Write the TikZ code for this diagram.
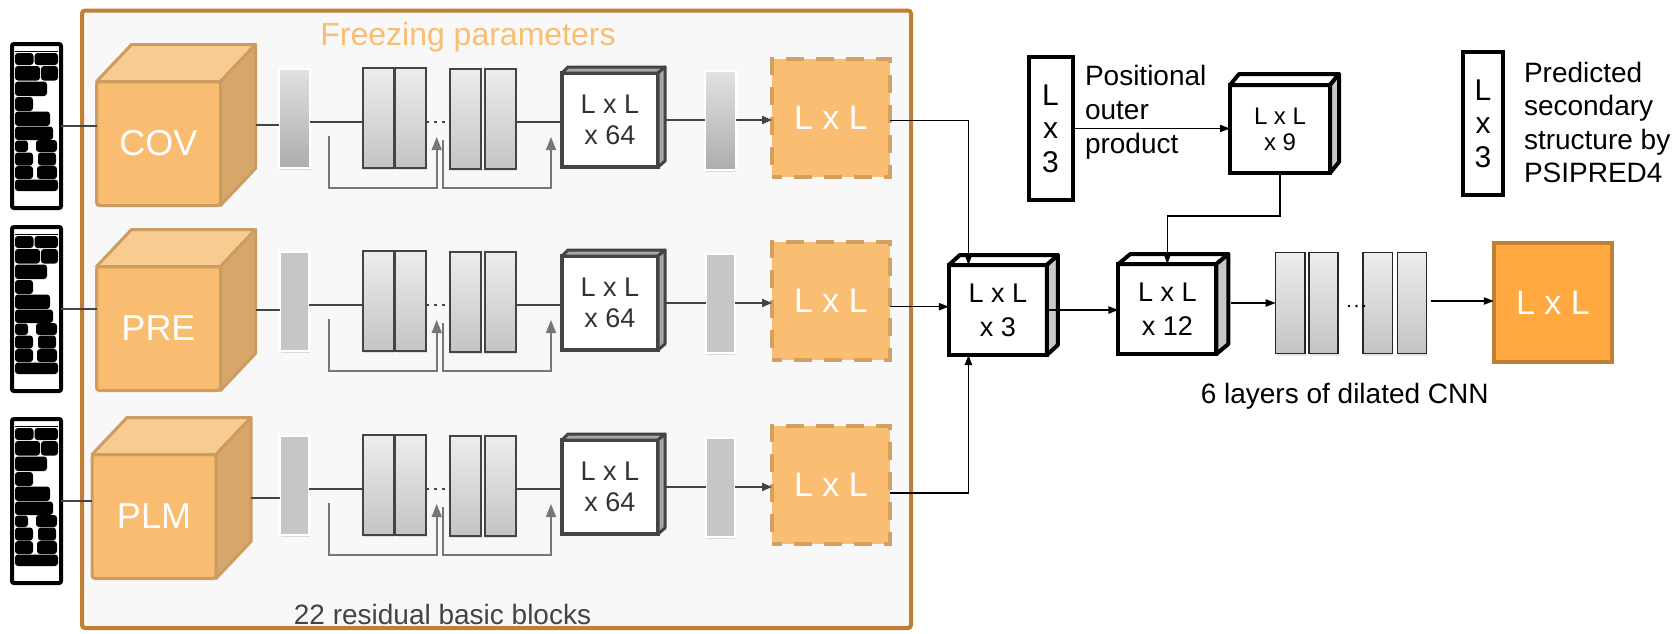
\documentclass[tikz,border=0pt]{standalone}
\usepackage{fontspec}
\setmainfont{Liberation Sans}
\usetikzlibrary{arrows.meta,shadows,calc}

\definecolor{frameC}{HTML}{BF7F35}
\definecolor{frameBg}{HTML}{F8F8F8}
\definecolor{freezeC}{HTML}{F9BE72}
\definecolor{cubeFront}{HTML}{F8BD70}
\definecolor{cubeTop}{HTML}{F8CB90}
\definecolor{cubeSide}{HTML}{D6A66A}
\definecolor{cubeEdge}{HTML}{CC9C62}
\definecolor{dashFill}{HTML}{F9BE72}
\definecolor{dashEdge}{HTML}{D1A062}
\definecolor{outFill}{HTML}{FFA940}
\definecolor{darkG}{HTML}{444444}
\definecolor{skipG}{HTML}{777777}
\definecolor{blkTop}{HTML}{EDEDED}
\definecolor{blkBot}{HTML}{C4C4C4}
\definecolor{barTop}{HTML}{E2E2E2}
\definecolor{barBot}{HTML}{ADADAD}
\definecolor{barFlat}{HTML}{C6C6C6}
\definecolor{sideG}{HTML}{C8C8C8}

% bars of the sequence-alignment icon, in local pixel units
\newcommand{\seqbars}{%
  \fill[black] (5,9) rectangle (48,10.2);
  \foreach \xa/\ya/\xb/\yb in {5/11/23.5/23, 24.5/11/48/23, 5/24/30/38.5, 31/24/48/38.5,
      5/39.5/37/54, 5/55/23/69, 5/69.5/40/84, 5/84.5/43/98, 5/98.5/18/110, 26/98/47/110,
      5/110.5/23/123.5, 28/110.5/46/123.5, 5/124/23/137, 27/124/47/137, 5/137.5/48/149}
    \fill[black, rounded corners=1.5pt] (\xa,\ya) rectangle (\xb,\yb);
}

\tikzset{
  every node/.style={inner sep=0pt, outer sep=0pt},
  lbl/.style={font=\fontsize{14}{17}\selectfont},
  frame/.style={draw=frameC, line width=2pt, fill=frameBg, rounded corners=1.5pt,
    minimum width=414.5pt, minimum height=308.75pt},
  seqbox/.style={draw=black, line width=2pt, fill=white, rounded corners=1pt,
    minimum width=24.5pt, minimum height=82pt},
  cubefront/.style={draw=cubeEdge, line width=1.5pt, fill=cubeFront, rounded corners=1.5pt,
    minimum width=62pt, minimum height=62pt, text=white, font=\fontsize{18}{20}\selectfont},
  cubeface/.style={draw=cubeEdge, line width=1.5pt, line join=round},
  barG/.style={draw=white, line width=1pt, top color=barTop, bottom color=barBot,
    minimum width=15.5pt, minimum height=49.5pt,
    drop shadow={shadow xshift=0.4pt, shadow yshift=-1.2pt, opacity=0.25}},
  barF/.style={draw=white, line width=1pt, fill=barFlat,
    minimum width=14.5pt, minimum height=49.5pt,
    drop shadow={shadow xshift=0.4pt, shadow yshift=-1.2pt, opacity=0.25}},
  blk/.style={draw=darkG, line width=1pt, top color=blkTop, bottom color=blkBot,
    minimum width=15.5pt, minimum height=50pt,
    drop shadow={shadow xshift=0.4pt, shadow yshift=-1.2pt, opacity=0.2}},
  cnnblk/.style={blk, draw=black!85, line width=0.75pt, minimum width=14.6pt, minimum height=50.3pt},
  boxsf/.style={draw=darkG, line width=2pt, fill=white, minimum width=48pt, minimum height=47pt,
    text=black!80, align=center, font=\fontsize{13.5}{15.5}\selectfont},
  boxsfface/.style={draw=darkG, line width=1.5pt, fill=black!35, line join=round},
  dashbox/.style={draw=dashEdge, line width=2pt, fill=dashFill, dash pattern=on 9pt off 6pt,
    dash phase=4pt, minimum width=59pt, minimum height=59pt, text=white,
    font=\fontsize{17}{19}\selectfont},
  mbox/.style={draw=black, line width=2pt, fill=white, align=center,
    minimum width=49pt, minimum height=45pt, font=\fontsize{13.5}{17}\selectfont},
  mtop/.style={draw=black, line width=2pt, fill=white, line join=round},
  mside/.style={draw=black, line width=2pt, fill=sideG, line join=round},
  tallbox/.style={draw=black, line width=2pt, fill=white, align=center,
    minimum width=22pt, minimum height=71.5pt, font=\fontsize{15}{16.8}\selectfont},
  outbox/.style={draw=frameC, line width=2pt, fill=outFill, minimum width=59pt, minimum height=59.7pt,
    text=white, font=\fontsize{17}{19}\selectfont},
  rowln/.style={draw=darkG, line width=1pt},
  rowarr/.style={rowln, -{Triangle[length=5pt,width=4pt]}},
  rowdots/.style={draw=darkG, line width=1.2pt, dash pattern=on 1.5pt off 2.5pt},
  skipln/.style={draw=skipG, line width=0.8pt, -{Triangle[length=6.5pt,width=5pt]}},
  conn/.style={draw=black, line width=0.75pt},
  arr/.style={conn, -{Triangle[length=5pt,width=3.6pt]}},
}

\begin{document}
\begin{tikzpicture}[x=0.5pt,y=-0.5pt]
\fill[white] (0,0) rectangle (1675,633);
\useasboundingbox (0,0) rectangle (1675,633);

% frozen feature-extraction block
\node[frame] (frame) at (496.5,319.25) {};
\node[font=\fontsize{16}{18}\selectfont, text=freezeC] (freeze) at (468,37) {Freezing parameters};
\node[lbl, text=darkG] (resid) at (442.5,614) {22 residual basic blocks};

\foreach \i/\sy/\cx/\cy/\lab/\ey/\ly/\oy/\bst in {
    1/126/158.5/143.5/COV/118/122/120.7/barG,
    2/309/158.5/328.5/PRE/301/305/306.7/barF,
    3/501/154/516.5/PLM/485/489/493/barF}{
  % input alignment
  \node[seqbox] (seq\i) at (36.5,\sy) {};
  \begin{scope}[shift={($(seq\i.north west)+(-2,-2)$)}]
    \seqbars
  \end{scope}
  % feature cube
  \node[cubefront] (cube\i) at (\cx,\cy) {\lab};
  \draw[cubeface, fill=cubeTop] (cube\i.north west) -- ++(35,-37)
      -- ($(cube\i.north east)+(35,-37)$) -- (cube\i.north east) -- cycle;
  \draw[cubeface, fill=cubeSide] (cube\i.north east) -- ++(35,-37)
      -- ($(cube\i.south east)+(35,-37)$) -- (cube\i.south east) -- cycle;
  \coordinate (cs\i) at ($(cube\i.east)+(35,-18.5)$);
  \draw[rowln] (seq\i.east) -- (seq\i.east -| cube\i.west);
  % residual tower
  \node[\bst] (ba\i) at (294.5,\ey) {};
  \coordinate (l\i) at (0,\ly);
  \node[blk] (pa\i) at (378,\ey) {};
  \node[blk] (pb\i) at (410.7,\ey) {};
  \node[blk] (pc\i) at (465.5,{\ey+1}) {};
  \node[blk] (pd\i) at (500,{\ey+1}) {};
  \node[boxsf] (bx\i) at (610,{\ey+2}) {L x L\\x 64};
  \draw[boxsfface] (bx\i.north west) -- ++(6,-6) -- ($(bx\i.north east)+(7,-6)$)
      -- (bx\i.north east) -- cycle;
  \draw[boxsfface] (bx\i.north east) -- ++(7,-6) -- ($(bx\i.south east)+(7,-6)$)
      -- (bx\i.south east) -- cycle;
  \node[\bst] (bb\i) at (720,{\ey+2}) {};
  \node[dashbox] (dl\i) at (831,{\ey}) {L x L};
  \draw[rowln] (cs\i) -- (cs\i -| ba\i.west);
  \draw[rowln] (ba\i.east |- l\i) -- (pa\i.west |- l\i);
  \draw[rowdots] (pb\i.east |- l\i) -- (pc\i.west |- l\i);
  \draw[rowln] (pd\i.east |- l\i) -- (bx\i.west |- l\i);
  \draw[rowln] ($(bx\i.east)+(7,0)$) -- (bb\i.west);
  \draw[rowarr] (bb\i.east) -- (bb\i.east -| dl\i.west);
  % skip connections
  \coordinate (sa\i) at (329,{\ly+14});
  \coordinate (ta\i) at (436.7,{\ly+15});
  \coordinate (sc\i) at (442.7,{\ly+18});
  \coordinate (tc\i) at (551,{\ly+15});
  \draw[skipln] (sa\i) -- ++(0,52) -| (ta\i);
  \draw[skipln] (sc\i) -- ++(0,48) -| (tc\i);
  \coordinate (o\i) at (0,\oy);
}

% fusion of the three maps
\node[mbox] (merge) at (997.85,310) {L x L\\x 3};
\draw[mtop] (merge.north west) -- ++(11,-10) -- ($(merge.north east)+(11,-10)$)
    -- (merge.north east) -- cycle;
\draw[mside] (merge.north east) -- ++(11,-10) -- ($(merge.south east)+(11,-10)$)
    -- (merge.south east) -- cycle;
\draw[arr] (dl1.east |- o1) -| ($(merge.north west)!0.2!(merge.north east)$);
\draw[arr] (dl2.east |- o2) -- (merge.west |- o2);
\draw[arr] (dl3.east |- o3) -| ($(merge.south west)!0.2!(merge.south east)$);

% concatenated features
\node[mbox] (b12) at (1167.35,309) {L x L\\x 12};
\draw[mtop] (b12.north west) -- ++(12,-10) -- ($(b12.north east)+(12,-10)$)
    -- (b12.north east) -- cycle;
\draw[mside] (b12.north east) -- ++(12,-10) -- ($(b12.south east)+(12,-10)$)
    -- (b12.south east) -- cycle;
\draw[arr] (merge.east) -- (merge.east -| b12.west);

% secondary-structure branch
\node[tallbox] (pos) at (1050.5,128.5) {L\\x\\3};
\node[lbl, anchor=west, align=left, font=\fontsize{14}{17}\selectfont] (postxt) at (1085,112) {Positional\\outer\\product};
\node[mbox, minimum width=50pt, minimum height=44pt, font=\fontsize{12}{13}\selectfont] (b9) at (1280,129) {L x L\\x 9};
\draw[mtop] (b9.north west) -- ++(9,-11) -- ($(b9.north east)+(9,-11)$)
    -- (b9.north east) -- cycle;
\draw[mside] (b9.north east) -- ++(9,-11) -- ($(b9.south east)+(9,-11)$)
    -- (b9.south east) -- cycle;
\draw[arr] (pos.east) -- (pos.east -| b9.west);
\draw[arr] (b9.south) -- ++(0,43) -| (b12.north);

\node[tallbox, minimum width=20pt] (psi) at (1483,123.5) {L\\x\\3};
\node[lbl, anchor=west, align=left, font=\fontsize{14}{16.7}\selectfont] (psitxt) at (1524,122.5) {Predicted\\secondary\\structure by\\PSIPRED4};

% dilated CNN
\node[cnnblk] (c1) at (1290.3,303) {};
\node[cnnblk] (c2) at (1323.5,303) {};
\node[cnnblk] (c3) at (1377.7,303) {};
\node[cnnblk] (c4) at (1412,303) {};
\foreach \dx in {1349,1356.5,1364} \fill[black] (\dx,306) circle (0.7pt);
\coordinate (cin) at ($(b12.east)+(15,-6)$);
\draw[arr] (cin) -- (cin -| c1.west);
\node[outbox] (out) at (1552.85,302.35) {L x L};
\coordinate (cout) at ($(c4.east)+(4,-2)$);
\draw[arr] (cout) -- (cout -| out.west);
\node[lbl] (cnnlbl) at (1344.7,396.7) {6 layers of dilated CNN};
\end{tikzpicture}
\end{document}
